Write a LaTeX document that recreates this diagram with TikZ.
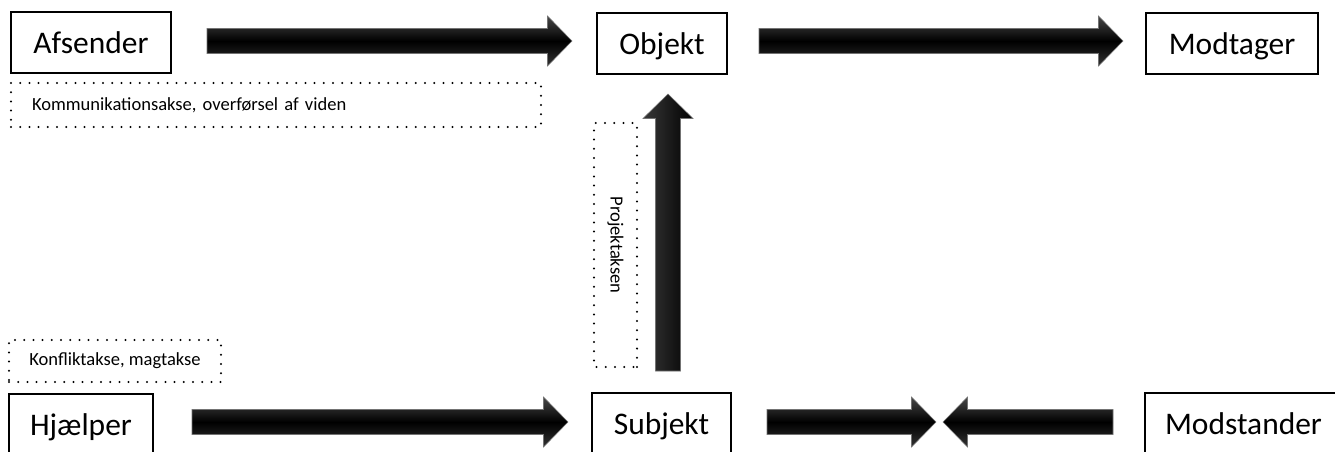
\documentclass[tikz,border=0pt]{standalone}
\usepackage{fontspec}
\setmainfont{Carlito}
\frenchspacing
\tikzset{
  box/.style={draw=black, line width=1.4pt, minimum height=45.75pt, inner sep=0pt,
    text height=22pt, text depth=5pt, font=\fontsize{23.6}{28}\selectfont},
  dotbox/.style={draw=black, line width=1.7pt, line cap=round, dash pattern=on 0pt off 6.9pt,
    inner sep=0pt, font=\fontsize{13.9}{16}\selectfont},
  pics/barrow/.style={code={
    \shade[top color=black!72, bottom color=black!80, middle color=black, draw=black!55, line width=0.4pt]
      (0,-12.5) -- (#1-24.5,-12.5) -- (#1-24.5,-25) -- (#1,0) -- (#1-24.5,25) -- (#1-24.5,12.5) -- (0,12.5) -- cycle;
  }},
  pics/varrow/.style={code={
    \shade[left color=black!78, right color=black, draw=black!55, line width=0.4pt]
      (-12.5,0) -- (-12.5,-#1+24.5) -- (-25,-#1+24.5) -- (0,-#1) -- (25,-#1+24.5) -- (12.5,-#1+24.5) -- (12.5,0) -- cycle;
  }}
}
\begin{document}
\begin{tikzpicture}[x=0.75pt, y=-0.75pt]
\useasboundingbox (0,0) rectangle (1335,451);
\clip (0,0) rectangle (1335,451);
% boxes
\node[box, minimum width=120pt] (afs) at (91,42.5) {Afsender};
\node[box, minimum width=97.5pt] (obj) at (662,43.5) {Objekt};
\node[box, minimum width=129pt] (mod) at (1232,43.5) {Modtager};
\node[box, minimum width=108pt] (hj) at (81,424.5) {Hjælper};
\node[box, minimum width=104.25pt] (sub) at (661.5,423.5) {Subjekt};
\node[box, minimum width=147.75pt] (ms) at (1243.5,423.5) {Modstander};
% dotted labels
\node[dotbox, text width=366pt, inner xsep=15.75pt, minimum height=33pt, align=left] (kom) at (276,105)
  {Kommunikationsakse, overførsel af viden};
\node[dotbox, minimum width=159pt, minimum height=31.5pt] (konf) at (115,361) {Konfliktakse, magtakse};
\node[dotbox, rotate=-90, minimum width=183pt, minimum height=32.25pt] (proj) at (615.5,245) {Projektaksen};
% arrow anchors
\coordinate (a1) at (207,41);
\coordinate (a2) at (759,41);
\coordinate (a3) at (192,422);
\coordinate (a4) at (767,422);
\coordinate (a5) at (1113,422);
\coordinate (a6) at (668,371);
\pic at (a1) {barrow=365};
\pic at (a2) {barrow=364};
\pic at (a3) {barrow=376};
\pic at (a4) {barrow=169};
\pic[rotate=180] at (a5) {barrow=170};
\pic at (a6) {varrow=277};
\end{tikzpicture}
\end{document}
